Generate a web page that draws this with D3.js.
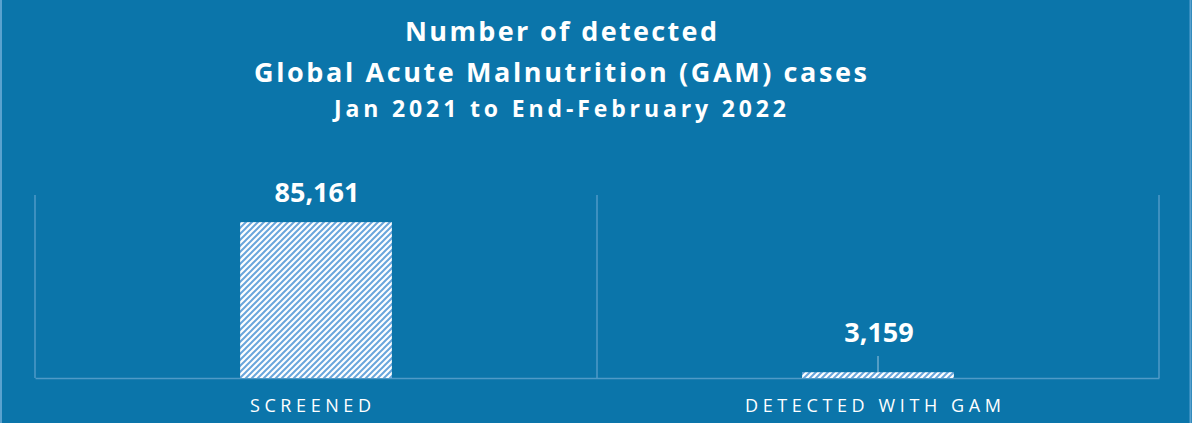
<!DOCTYPE html>
<html>
<head>
<meta charset="utf-8">
<script src="https://cdn.jsdelivr.net/npm/d3@7"></script>
<style>
  html, body { margin: 0; padding: 0; background: #0b75aa; }
  svg { display: block; }
</style>
</head>
<body>
<svg id="chart" width="1192" height="423"></svg>
<script>
const categories = ["SCREENED", "DETECTED WITH GAM"];
const values = [85161, 3159];
const valueLabels = ["85,161", "3,159"];
const titleLines = ["Number of detected", "Global Acute Malnutrition (GAM) cases", "Jan 2021 to End-February 2022"];
const yDomain = [0, 100000];

const W = 1192, H = 423;
const svg = d3.select("#chart");
const bg = "#0b75aa";
const gridColor = "#4f9ac7";

svg.append("rect").attr("width", W).attr("height", H).attr("fill", bg);
// light edge stripes
svg.append("line").attr("x1", 1).attr("x2", 1).attr("y1", 0).attr("y2", H).attr("stroke", "#5aa2cf").attr("stroke-width", 2);
svg.append("line").attr("x1", W - 1.5).attr("x2", W - 1.5).attr("y1", 0).attr("y2", H).attr("stroke", "#5aa2cf").attr("stroke-width", 2);

const defs = svg.append("defs");
const pat = defs.append("pattern").attr("id", "hatch").attr("patternUnits", "userSpaceOnUse")
  .attr("width", 6).attr("height", 6);
pat.append("rect").attr("width", 6).attr("height", 6).attr("fill", "#ffffff");
pat.append("path").attr("d", "M-1,7 L7,-1 M-4,4 L4,-4 M2,10 L10,2")
  .attr("stroke", "#6aa6dc").attr("stroke-width", 2);

const x = d3.scaleBand().domain(categories).range([35, 1159]).padding(0);
const y = d3.scaleLinear().domain(yDomain).range([378, 195]);
const barW = x.bandwidth() * 0.27;

// Title
const titleSizes = [27, 27, 23];
const titleY = [41, 82, 117];
const titleX = [405, 254, 334];
const titleLen = [312, 613, 452];
svg.append("g").selectAll("text").data(titleLines).join("text")
  .attr("x", (d, i) => titleX[i]).attr("y", (d, i) => titleY[i])
  .attr("text-anchor", "start")
  .attr("fill", "#ffffff")
  .attr("font-family", "'Open Sans', sans-serif")
  .attr("font-weight", "bold")
  .attr("font-size", (d, i) => titleSizes[i])
  .attr("textLength", (d, i) => titleLen[i])
  .attr("lengthAdjust", "spacing")
  .text(d => d);

// Vertical separators (category boundaries)
const bounds = categories.map(c => x(c)).concat([x(categories[categories.length - 1]) + x.bandwidth()]);
svg.append("g").selectAll("line").data(bounds).join("line")
  .attr("x1", d => d).attr("x2", d => d)
  .attr("y1", y(yDomain[1])).attr("y2", y(0))
  .attr("stroke", gridColor).attr("stroke-width", 1.5);

// Baseline axis
const xAxis = d3.axisBottom(x).tickSize(0).tickPadding(0);
const axG = svg.append("g").attr("transform", `translate(0,${y(0)})`).call(xAxis);
axG.select(".domain").attr("stroke", gridColor).attr("stroke-width", 1.5);
axG.selectAll(".tick text").remove();

// Bars
svg.append("g").selectAll("rect").data(values).join("rect")
  .attr("x", (d, i) => x(categories[i]) + (x.bandwidth() - barW) / 2)
  .attr("width", barW)
  .attr("y", d => y(d))
  .attr("height", d => y(0) - y(d))
  .attr("fill", "url(#hatch)");

// Value labels
const labelY = [202, 342];
svg.append("g").selectAll("text").data(valueLabels).join("text")
  .attr("x", (d, i) => x(categories[i]) + x.bandwidth() / 2 + 1)
  .attr("y", (d, i) => labelY[i])
  .attr("text-anchor", "middle")
  .attr("fill", "#ffffff")
  .attr("font-family", "'Open Sans', sans-serif")
  .attr("font-weight", "bold")
  .attr("font-size", 27)
  .text(d => d);

// Leader line for small bar
svg.append("line")
  .attr("x1", x(categories[1]) + x.bandwidth() / 2).attr("x2", x(categories[1]) + x.bandwidth() / 2)
  .attr("y1", 356).attr("y2", y(values[1]))
  .attr("stroke", "#9cc6e0").attr("stroke-width", 1);

// Category labels
const catX = [250, 745];
const catLen = [121, 256];
svg.append("g").selectAll("text").data(categories).join("text")
  .attr("x", (d, i) => catX[i])
  .attr("y", 412)
  .attr("text-anchor", "start")
  .attr("fill", "#ffffff")
  .attr("font-family", "'Open Sans', sans-serif")
  .attr("font-size", 18)
  .attr("textLength", (d, i) => catLen[i])
  .attr("lengthAdjust", "spacing")
  .text(d => d);
</script>
</body>
</html>
